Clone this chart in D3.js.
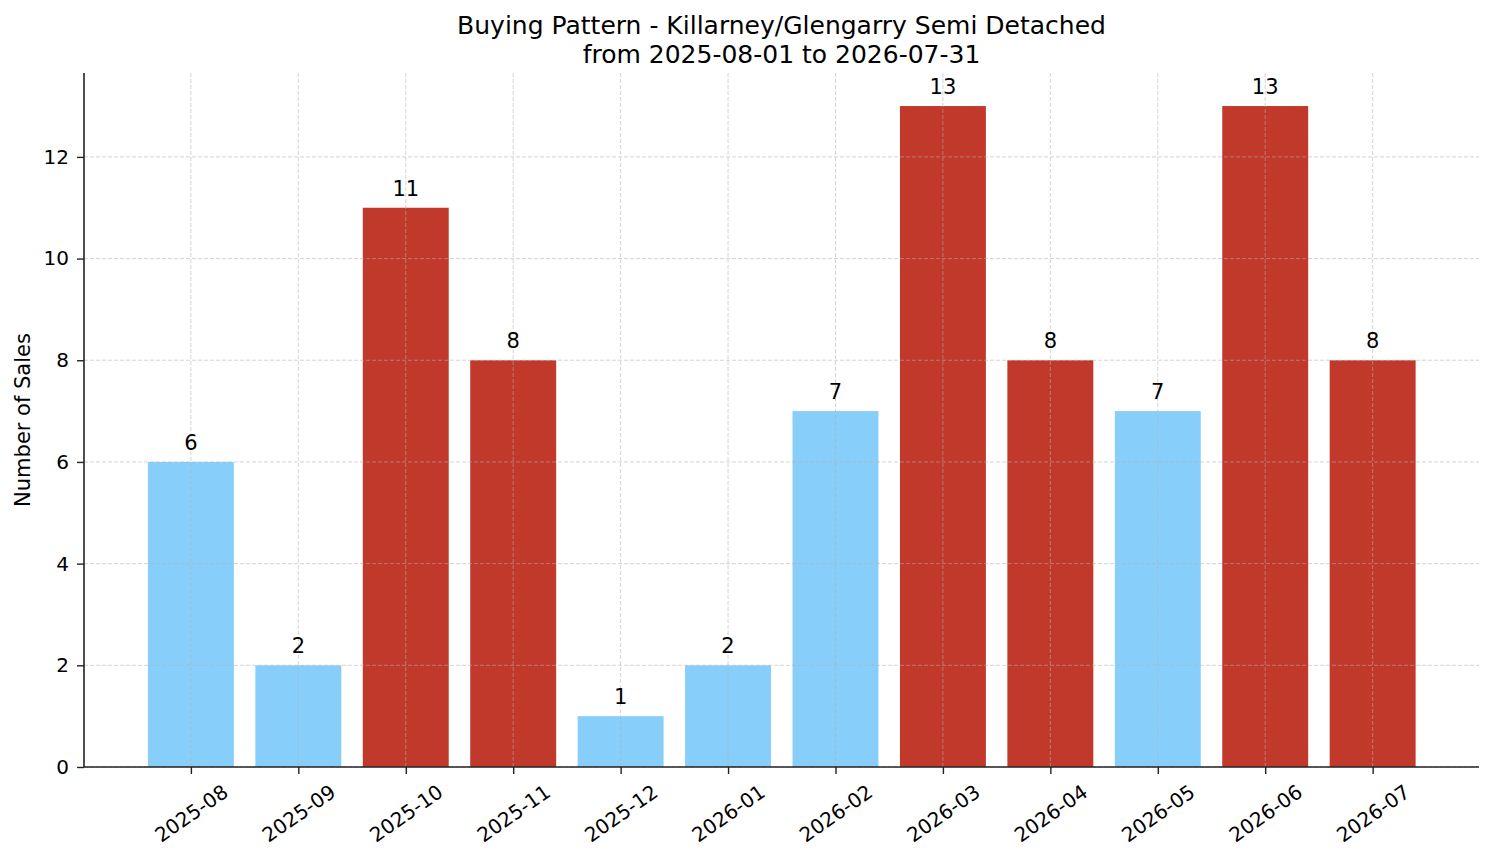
<!DOCTYPE html>
<html>
<head>
<meta charset="utf-8">
<script src="https://cdn.jsdelivr.net/npm/d3@7"></script>
<style>
  body { margin: 0; background: #fff; }
  text { font-family: "DejaVu Sans", sans-serif; fill: #000; }
</style>
</head>
<body>
<div id="chart"></div>
<script>
// Monthly sales data
const months = ["2025-08", "2025-09", "2025-10", "2025-11", "2025-12", "2026-01",
    "2026-02", "2026-03", "2026-04", "2026-05", "2026-06", "2026-07"];
const sales = [6, 2, 11, 8, 1, 2, 7, 13, 8, 7, 13, 8];
const yTicks = [0, 2, 4, 6, 8, 10, 12];
const titleLines = ["Buying Pattern - Killarney/Glengarry Semi Detached", "from 2025-08-01 to 2026-07-31"];

const W = 1494, H = 863;
const margin = { top: 73, right: 15, bottom: 96, left: 84 };
const width = W - margin.left - margin.right;
const height = H - margin.top - margin.bottom;

const svg = d3.select("#chart").append("svg")
    .attr("width", W)
    .attr("height", H);

const g = svg.append("g")
    .attr("transform", `translate(${margin.left},${margin.top})`);

// x positions by index, y by value
const x = d3.scaleLinear().domain([-0.995, 11.99]).range([0, width]);
const y = d3.scaleLinear().domain([0, 13 * 1.05]).range([height, 0]);
const barW = x(0.8) - x(0);

// bars above the average sales are red
const avg = d3.mean(sales);

g.selectAll(".bar")
    .data(sales)
    .enter()
    .append("rect")
    .attr("class", "bar")
    .attr("x", (d, i) => x(i) - barW / 2)
    .attr("y", d => y(d))
    .attr("width", barW)
    .attr("height", d => y(0) - y(d))
    .attr("fill", d => d > avg ? "#c0392b" : "#87cefa");

// grid on top of bars
const grid = g.append("g").attr("class", "grid");
grid.selectAll(".gy")
    .data(yTicks)
    .enter()
    .append("line")
    .attr("x1", 0).attr("x2", width)
    .attr("y1", d => y(d)).attr("y2", d => y(d))
    .attr("stroke", "#b0b0b0")
    .attr("stroke-opacity", 0.55)
    .attr("stroke-dasharray", "4,2")
    .attr("stroke-width", 1);
grid.selectAll(".gx")
    .data(months)
    .enter()
    .append("line")
    .attr("x1", (d, i) => x(i)).attr("x2", (d, i) => x(i))
    .attr("y1", 0).attr("y2", height)
    .attr("stroke", "#b0b0b0")
    .attr("stroke-opacity", 0.55)
    .attr("stroke-dasharray", "4,2")
    .attr("stroke-width", 1);

// value labels
g.selectAll(".val")
    .data(sales)
    .enter()
    .append("text")
    .attr("x", (d, i) => x(i))
    .attr("y", d => y(d) - 12)
    .attr("text-anchor", "middle")
    .style("font-size", "21px")
    .text(d => d);

// y axis
const yAxis = g.append("g")
    .call(d3.axisLeft(y).tickValues(yTicks).tickSize(7).tickPadding(8));
yAxis.selectAll("text").style("font-size", "20px").style("font-family", "DejaVu Sans");

// x axis
const xAxis = g.append("g")
    .attr("transform", `translate(0,${height})`)
    .call(d3.axisBottom(x).tickValues(d3.range(months.length)).tickFormat(i => months[i]).tickSize(7));
xAxis.selectAll("text")
    .style("font-size", "20px")
    .style("font-family", "DejaVu Sans")
    .attr("dy", null)
    .attr("dominant-baseline", "central")
    .attr("y", 0)
    .attr("transform", function(d) {
        const L = this.getComputedTextLength();
        const cy = 13 + (0.574 * L + 0.819 * 23) / 2;
        return `translate(0,${cy}) rotate(-35)`;
    });

[yAxis, xAxis].forEach(a => {
    a.selectAll(".domain").attr("stroke", "#222").attr("stroke-width", 1.6);
    a.selectAll(".tick line").attr("stroke", "#222").attr("stroke-width", 1.4);
});
// plain spines without end caps
yAxis.select(".domain").attr("d", `M0,0V${height}`);
xAxis.select(".domain").attr("d", `M0,0H${width}`);

// y label
svg.append("text")
    .attr("transform", `translate(23,${margin.top + height / 2}) rotate(-90)`)
    .attr("text-anchor", "middle")
    .attr("dominant-baseline", "central")
    .style("font-size", "21px")
    .text("Number of Sales");

// title
svg.selectAll(".title")
    .data(titleLines)
    .enter()
    .append("text")
    .attr("x", margin.left + width / 2)
    .attr("y", (d, i) => 34 + i * 29)
    .attr("text-anchor", "middle")
    .style("font-size", "25px")
    .text(d => d);
</script>
</body>
</html>
